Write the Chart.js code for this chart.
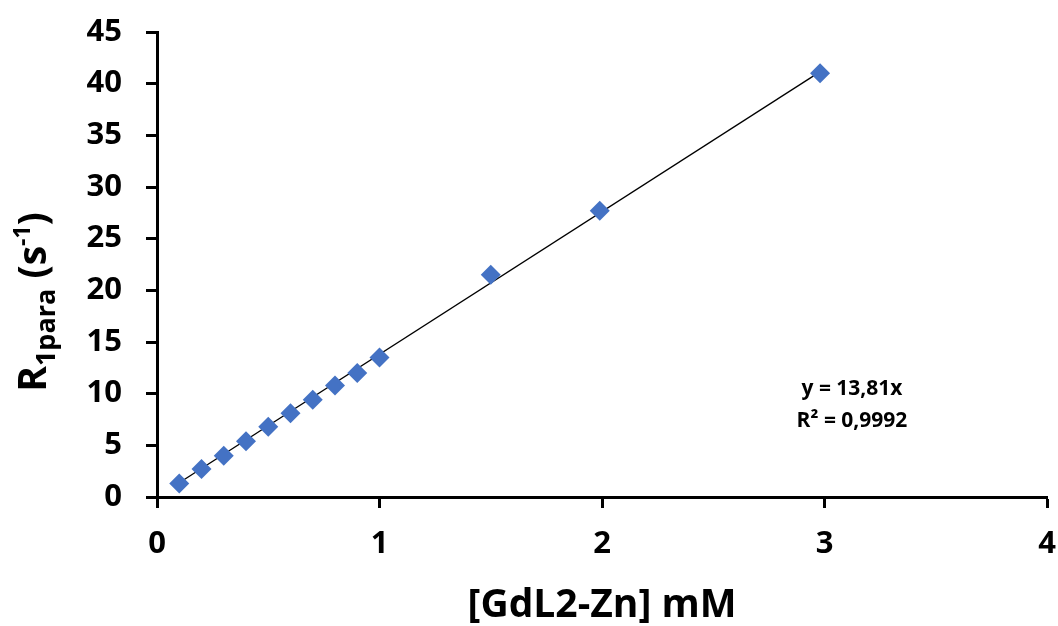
<!DOCTYPE html>
<html>
<head>
<meta charset="utf-8">
<script src="https://cdn.jsdelivr.net/npm/chart.js@4"></script>
<style>
  html, body { margin: 0; padding: 0; background: #fff; }
  #wrap { width: 1058px; height: 626px; }
</style>
</head>
<body>
<div id="wrap"><canvas id="relaxChart"></canvas></div>
<script>
// concentration (mM) and relaxation rate (s-1)
const conc = [0.1, 0.2, 0.3, 0.4, 0.5, 0.6, 0.7, 0.8, 0.9, 1.0, 1.5, 1.99, 2.98];
const r1para = [1.3, 2.7, 4.0, 5.4, 6.8, 8.1, 9.4, 10.8, 12.0, 13.5, 21.5, 27.7, 41.0];
const slope = 13.81;
const trendX = [0.1, 3.0];
const fitLabel = ["y = 13,81x", "R² = 0,9992"];

const FONT = "'Open Sans', 'DejaVu Sans', sans-serif";

// axis titles + trendline equation drawn by hand (sub/superscripts)
const labelsPlugin = {
  id: "labels",
  afterDraw(chart) {
    const ctx = chart.ctx;
    ctx.save();
    ctx.fillStyle = "#000";

    // x title
    ctx.font = "bold 39px " + FONT;
    ctx.textAlign = "center";
    ctx.textBaseline = "alphabetic";
    ctx.fillText("[GdL2-Zn] mM", 602, 617);

    // y title, rotated
    ctx.translate(46, 302);
    ctx.rotate(-Math.PI / 2);
    const parts = [
      { t: "R", f: "bold 39px ", dy: 0 },
      { t: "1para", f: "bold 27px ", dy: 9 },
      { t: " (s", f: "bold 39px ", dy: 0 },
      { t: "-1", f: "bold 23px ", dy: -16 },
      { t: ")", f: "bold 39px ", dy: 0 }
    ];
    let total = 0;
    parts.forEach(p => { ctx.font = p.f + FONT; total += ctx.measureText(p.t).width; });
    let x = -total / 2;
    ctx.textAlign = "left";
    parts.forEach(p => {
      ctx.font = p.f + FONT;
      ctx.fillText(p.t, x, p.dy);
      x += ctx.measureText(p.t).width;
    });
    ctx.restore();

    // equation
    ctx.save();
    ctx.fillStyle = "#000";
    ctx.font = "bold 21px " + FONT;
    ctx.textAlign = "center";
    ctx.fillText(fitLabel[0], 852, 395);
    ctx.fillText(fitLabel[1], 852, 427);
    ctx.restore();
  }
};

const chart = new Chart(document.getElementById("relaxChart"), {
  type: "scatter",
  data: {
    datasets: [
      {
        label: "trend",
        type: "line",
        data: trendX.map(x => ({ x: x, y: slope * x })),
        borderColor: "#000",
        borderWidth: 1.3,
        pointRadius: 0,
        order: 2
      },
      {
        label: "R1para",
        data: conc.map((c, i) => ({ x: c, y: r1para[i] })),
        pointStyle: "rectRot",
        pointRadius: 10,
        backgroundColor: "#4472C4",
        borderColor: "#4472C4",
        borderWidth: 0,
        order: 1
      }
    ]
  },
  options: {
    responsive: true,
    maintainAspectRatio: false,
    animation: false,
    layout: { padding: { top: 32, right: 11, left: 0, bottom: 0 } },
    plugins: {
      legend: { display: false },
      tooltip: { enabled: false }
    },
    scales: {
      x: {
        type: "linear",
        min: 0,
        max: 4,
        afterFit: s => {
          s.height = 129;
          s.paddingLeft = 0;
          s.paddingRight = 0;
        },
        ticks: {
          stepSize: 1,
          color: "#000",
          padding: 18,
          font: { family: FONT, size: 31, weight: "bold" }
        },
        grid: {
          drawOnChartArea: false,
          tickLength: 11,
          tickWidth: 3,
          tickColor: "#000"
        },
        border: { color: "#000", width: 3 }
      },
      y: {
        min: 0,
        max: 45,
        afterFit: s => {
          s.width = 157;
          s.paddingTop = 0;
          s.paddingBottom = 0;
        },
        ticks: {
          stepSize: 5,
          color: "#000",
          padding: 24,
          font: { family: FONT, size: 31, weight: "bold" }
        },
        grid: {
          drawOnChartArea: false,
          tickLength: 11,
          tickWidth: 3,
          tickColor: "#000"
        },
        border: { color: "#000", width: 3 }
      }
    }
  },
  plugins: [labelsPlugin]
});
</script>
</body>
</html>
